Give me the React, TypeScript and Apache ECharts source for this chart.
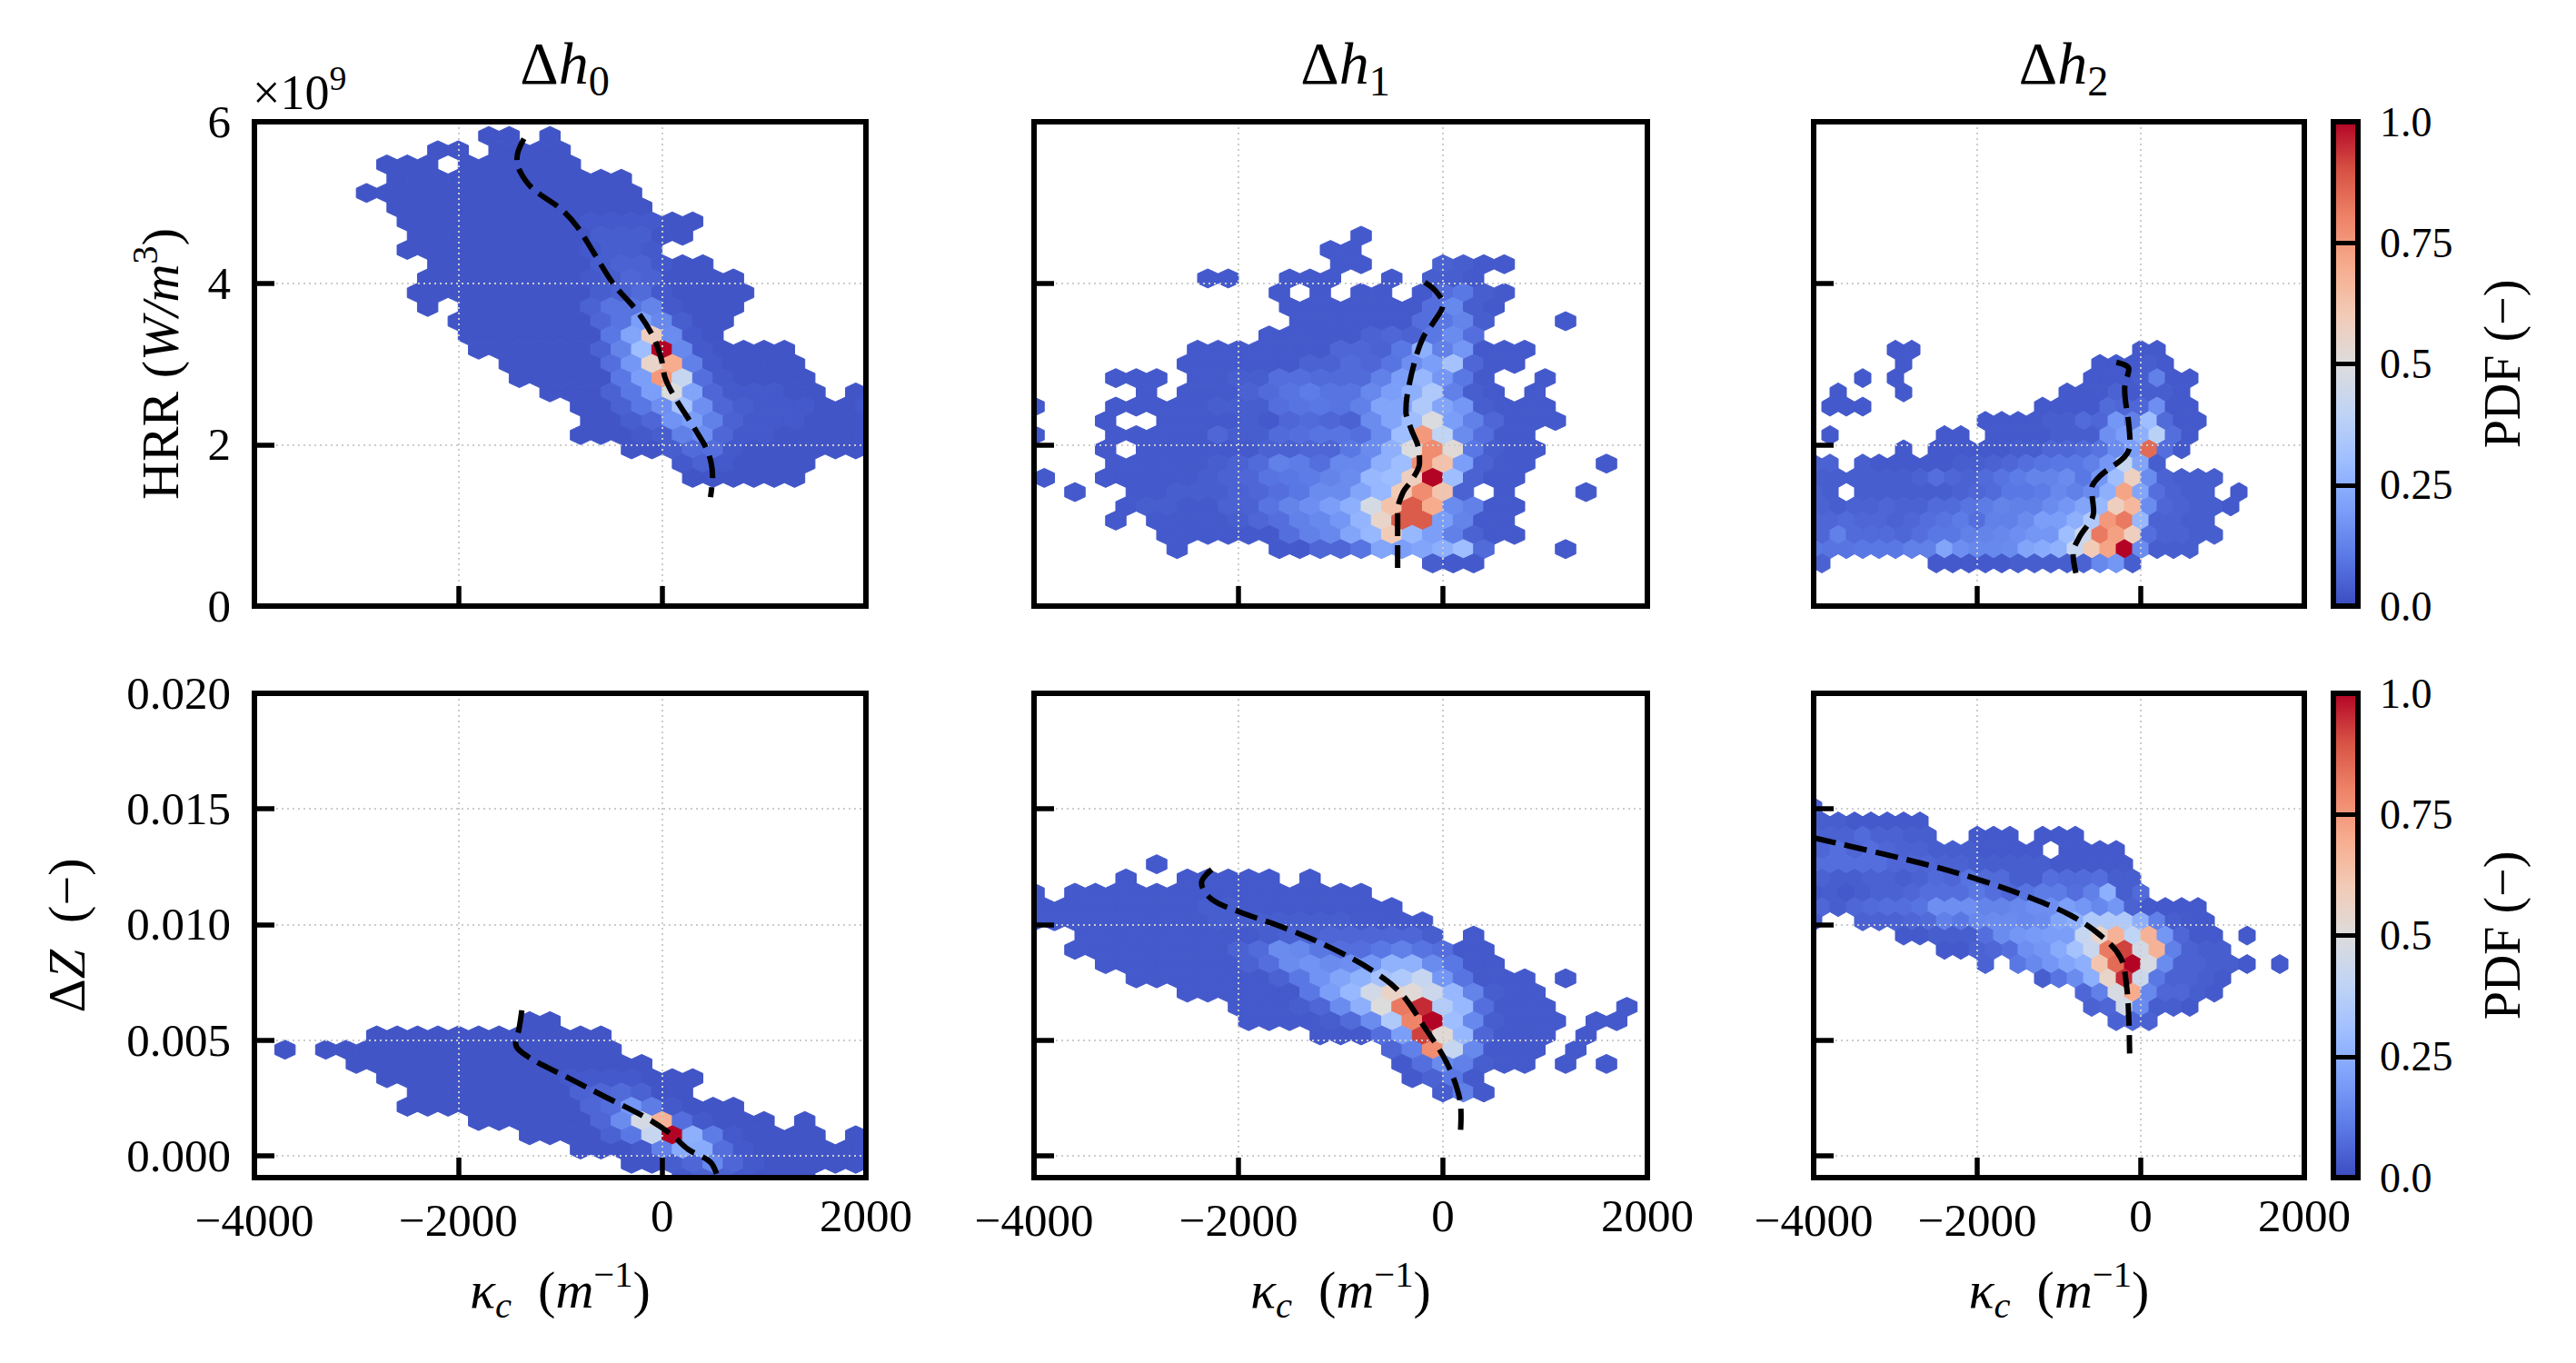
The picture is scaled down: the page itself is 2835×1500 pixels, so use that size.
import React, { useEffect, useRef } from "react";
import * as echarts from "echarts";

type HexRow = [number, number, number[]];

const dzTicks = [0, 0.005, 0.01, 0.015, 0.02];
const cbTicks = ["0.0", "0.25", "0.5", "0.75", "1.0"];
const titles = ["h0", "h1", "h2"];

// each row: [y, x of first hexagon, PDF in percent for hexagons 200 apart; 0 = empty]
const hrrD0: HexRow[] = [
  [5.824e9, -1700, [2, 2, 0, 2]],
  [5.647e9, -2200, [2, 2, 0, 2, 2, 2, 2]],
  [5.471e9, -2700, [2, 2, 2, 0, 2, 2, 2, 2, 2, 2]],
  [5.294e9, -2600, [2, 2, 2, 2, 2, 2, 2, 2, 2, 2, 2, 2]],
  [5.118e9, -2900, [2, 2, 2, 2, 2, 2, 2, 2, 2, 2, 2, 2, 2, 2]],
  [4.941e9, -2600, [2, 2, 2, 2, 2, 2, 2, 2, 2, 2, 2, 2, 2]],
  [4.765e9, -2500, [2, 2, 2, 2, 2, 2, 2, 2, 2, 3, 3, 3, 3, 2, 2]],
  [4.588e9, -2400, [2, 2, 2, 2, 2, 2, 2, 2, 2, 4, 4, 4, 2, 2]],
  [4.412e9, -2500, [2, 2, 2, 2, 2, 2, 2, 2, 2, 3, 4, 4, 3]],
  [4.235e9, -2200, [2, 2, 2, 2, 2, 2, 2, 2, 4, 5, 5, 3, 2, 2]],
  [4.059e9, -2300, [2, 2, 2, 2, 2, 2, 2, 2, 3, 4, 6, 5, 2, 2, 2, 2]],
  [3.882e9, -2400, [2, 2, 2, 2, 2, 2, 2, 2, 2, 4, 5, 7, 3, 2, 2, 2, 2]],
  [3.706e9, -2300, [2, 0, 2, 2, 2, 2, 2, 2, 5, 9, 9, 13, 3, 2, 2, 2]],
  [3.529e9, -2000, [2, 2, 2, 2, 2, 2, 2, 6, 9, 20, 14, 4, 2, 2]],
  [3.353e9, -1900, [2, 2, 2, 2, 2, 2, 2, 10, 22, 58, 15, 3, 2]],
  [3.176e9, -1800, [2, 2, 2, 2, 2, 2, 5, 13, 30, 100, 14, 3, 2, 2, 2, 2]],
  [3.0e9, -1500, [2, 2, 2, 2, 2, 8, 18, 55, 70, 12, 3, 2, 2, 2, 2]],
  [2.824e9, -1400, [2, 2, 2, 2, 2, 10, 20, 75, 42, 8, 3, 2, 2, 2, 2]],
  [2.647e9, -1100, [2, 2, 2, 5, 10, 20, 50, 22, 6, 3, 3, 3, 2, 2, 0, 2]],
  [2.471e9, -800, [2, 2, 5, 10, 16, 32, 16, 6, 4, 3, 3, 3, 2, 2, 3]],
  [2.294e9, -700, [2, 2, 4, 6, 17, 20, 12, 5, 3, 3, 3, 2, 2, 2]],
  [2.118e9, -800, [2, 2, 2, 3, 4, 12, 16, 6, 3, 3, 2, 2, 2, 2, 2]],
  [1.941e9, -300, [2, 2, 4, 7, 8, 3, 2, 2, 2, 2, 2, 2]],
  [1.765e9, 200, [3, 5, 3, 2, 2, 2, 2]],
  [1.588e9, 300, [2, 2, 2, 2, 2, 2]],
];

const hrrD1: HexRow[] = [
  [4.588e9, -800, [3]],
  [4.412e9, -1100, [3, 3]],
  [4.235e9, -1000, [3, 3]],
  [4.235e9, 0, [5, 4, 3, 3]],
  [4.059e9, -2300, [3, 3]],
  [4.059e9, -1500, [3, 3, 3]],
  [4.059e9, -500, [3]],
  [4.059e9, -100, [4, 4, 3]],
  [3.882e9, -1600, [3, 0, 3, 0, 3, 3, 0, 3, 8, 10, 4, 3]],
  [3.706e9, -1500, [3, 3, 3, 3, 3, 3, 3, 8, 14, 4, 3]],
  [3.529e9, -1400, [3, 3, 3, 3, 3, 3, 8, 10, 13, 4]],
  [3.529e9, 1200, [3]],
  [3.353e9, -1700, [3, 3, 3, 3, 3, 5, 6, 5, 10, 15, 8]],
  [3.176e9, -2400, [3, 3, 3, 3, 3, 3, 3, 6, 6, 5, 10, 25, 12, 18, 3, 3, 3]],
  [3.0e9, -2500, [3, 3, 3, 3, 3, 3, 5, 5, 7, 6, 9, 16, 20, 32, 6, 3, 3]],
  [2.824e9, -3200, [3, 3, 3]],
  [2.824e9, -2400, [3, 3, 4, 4, 8, 8, 7, 7, 7, 12, 20, 28, 18, 10, 3]],
  [2.824e9, 1000, [3]],
  [2.647e9, -2900, [3]],
  [2.647e9, -2500, [3, 3, 3, 5, 7, 9, 11, 9, 9, 14, 20, 25, 35, 12, 4, 3]],
  [2.647e9, 900, [3]],
  [2.471e9, -4000, [3]],
  [2.471e9, -3200, [3, 3, 3, 3, 3, 4, 4, 4, 8, 9, 10, 9, 12, 22, 22, 35, 22, 18, 4, 3, 3, 3]],
  [2.294e9, -3300, [3]],
  [2.294e9, -2700, [3, 3, 3, 3, 4, 3, 6, 7, 6, 5, 15, 22, 30, 49, 20, 12, 6, 3, 3, 3]],
  [2.118e9, -4000, [3]],
  [2.118e9, -3200, [3, 3, 3, 3, 3, 6, 4, 4, 7, 8, 9, 9, 8, 15, 30, 75, 40, 15, 8, 3, 3]],
  [1.941e9, -3300, [3, 0, 3, 3, 3, 3, 3, 3, 5, 5, 6, 6, 10, 15, 25, 50, 78, 52, 10, 4, 3, 3]],
  [1.765e9, -3200, [3, 3, 3, 3, 3, 4, 5, 7, 12, 11, 8, 14, 14, 25, 30, 78, 63, 20, 5, 3, 3]],
  [1.765e9, 1600, [3]],
  [1.588e9, -3900, [3]],
  [1.588e9, -3300, [3, 3, 3, 3, 3, 4, 5, 6, 9, 10, 11, 13, 15, 28, 30, 58, 100, 30, 5, 3, 3]],
  [1.412e9, -3600, [3]],
  [1.412e9, -3000, [3, 3, 4, 4, 4, 5, 6, 8, 10, 15, 15, 22, 28, 60, 78, 62, 5, 0, 3]],
  [1.412e9, 1400, [3]],
  [1.235e9, -3100, [3, 4, 4, 3, 3, 5, 5, 9, 13, 16, 20, 25, 47, 63, 88, 70, 15, 12, 3, 3]],
  [1.059e9, -3200, [3]],
  [1.059e9, -2800, [3, 3, 3, 3, 4, 6, 8, 12, 14, 18, 27, 55, 88, 88, 20, 13, 3, 3]],
  [0.882e9, -2700, [3, 3, 3, 3, 3, 3, 8, 12, 14, 22, 28, 60, 28, 20, 12, 5, 3, 3]],
  [0.706e9, -2600, [3]],
  [0.706e9, -1600, [3, 3, 6, 6, 9, 22, 20, 22, 25, 30, 7]],
  [0.706e9, 1200, [3]],
  [0.529e9, -100, [4, 3, 3]],
];

const hrrD2: HexRow[] = [
  [3.176e9, -3000, [3, 3]],
  [3.176e9, 0, [3, 3]],
  [3.0e9, -2900, [3]],
  [3.0e9, -500, [3, 3, 3, 4, 3]],
  [2.824e9, -3400, [3]],
  [2.824e9, -3000, [3]],
  [2.824e9, -600, [3, 3, 3, 4, 12, 3, 3]],
  [2.647e9, -3700, [3]],
  [2.647e9, -2900, [3]],
  [2.647e9, -900, [3, 3, 3, 5, 3, 4, 4, 3]],
  [2.471e9, -3800, [3, 3, 3]],
  [2.471e9, -1200, [3, 3, 3, 3, 7, 6, 6, 16, 3, 3]],
  [2.294e9, -1900, [3, 3, 3, 3, 4, 4, 7, 6, 18, 12, 30, 7, 3, 3]],
  [2.118e9, -3800, [3]],
  [2.118e9, -2400, [3, 3]],
  [2.118e9, -1800, [3, 3, 3, 3, 4, 4, 4, 16, 20, 25, 38, 8, 3]],
  [1.941e9, -2900, [3]],
  [1.941e9, -2500, [3, 3, 3, 3, 3, 4, 4, 6, 6, 7, 9, 15, 20, 85, 8, 3]],
  [1.765e9, -4000, [5, 5]],
  [1.765e9, -3400, [4, 3, 3, 3, 3, 3, 4, 4, 5, 6, 8, 9, 10, 10, 12, 18, 42, 22, 4]],
  [1.588e9, -3900, [4, 4, 4, 4, 4, 4, 5, 8, 6, 5, 7, 9, 11, 13, 13, 15, 10, 18, 30, 57, 15, 5, 4, 4, 4]],
  [1.412e9, -4000, [5, 4, 0, 4, 4, 4, 4, 4, 4, 5, 6, 7, 10, 10, 11, 14, 12, 15, 25, 72, 22, 8, 5, 4, 4]],
  [1.412e9, 1200, [3]],
  [1.235e9, -3900, [5, 4, 5, 5, 6, 5, 5, 7, 7, 9, 11, 13, 12, 12, 15, 18, 22, 28, 58, 66, 15, 6, 5, 4, 4, 3]],
  [1.059e9, -4000, [6, 6, 7, 6, 6, 5, 6, 8, 9, 11, 8, 12, 12, 15, 20, 20, 25, 35, 75, 82, 28, 5, 5, 4, 4]],
  [0.882e9, -3900, [6, 12, 7, 7, 7, 6, 8, 10, 10, 12, 13, 14, 16, 18, 18, 30, 44, 82, 73, 58, 8, 5, 5, 4, 4]],
  [0.706e9, -4000, [10, 9, 9, 10, 10, 10, 12, 12, 22, 16, 14, 14, 15, 22, 24, 26, 42, 60, 72, 100, 15, 4, 4, 4]],
  [0.529e9, -3900, [5]],
  [0.529e9, -2500, [3, 3, 3, 3, 3, 4, 4, 4, 4, 5, 14, 18, 4]],
];

const dzD0: HexRow[] = [
  [0.005819, -1300, [2, 2]],
  [0.005202, -2800, [2, 2, 2, 2, 2, 2, 2, 2, 2, 2, 2, 2]],
  [0.004585, -3700, [2]],
  [0.004585, -3300, [2, 2, 2, 2, 2, 2, 2, 2, 2, 2, 2, 2, 2, 2, 2]],
  [0.003968, -3000, [2, 2, 2, 2, 2, 2, 2, 2, 2, 2, 2, 2, 2, 2, 2]],
  [0.003351, -2700, [2, 2, 2, 2, 2, 2, 2, 2, 2, 3, 3, 3, 3, 2, 2, 2]],
  [0.002734, -2400, [2, 2, 2, 2, 2, 2, 2, 2, 5, 6, 7, 5, 2, 2]],
  [0.002117, -2500, [2, 2, 2, 2, 2, 2, 2, 2, 2, 6, 8, 18, 11, 3, 2, 2, 2]],
  [0.0015, -1800, [2, 2, 2, 2, 2, 2, 6, 15, 47, 68, 8, 3, 2, 2, 2]],
  [0.0015, 1400, [2]],
  [0.000883, -1300, [2, 2, 2, 2, 5, 10, 42, 100, 25, 11, 3, 2, 2, 2, 2]],
  [0.000883, 1900, [2]],
  [0.000266, -800, [2, 2, 2, 3, 12, 24, 24, 8, 3, 2, 2, 2, 2, 2, 2]],
  [-0.000351, -300, [2, 2, 4, 6, 14, 6, 3, 2, 2, 2, 2, 2]],
  [-0.000968, 200, [3, 5, 5, 3, 2, 2, 2]],
];

const dzD1: HexRow[] = [
  [0.012606, -2800, [3]],
  [0.011989, -3100, [3]],
  [0.011989, -2500, [3, 3, 3, 3, 3]],
  [0.011989, -1300, [3]],
  [0.011372, -4000, [3]],
  [0.011372, -3600, [3, 3, 3, 3, 3, 3, 3, 3, 3, 3, 3, 3, 3, 3, 3]],
  [0.010755, -3900, [3, 3, 3, 3, 3, 3, 3, 3, 4, 4, 3, 3, 3, 3, 3, 3, 3, 3]],
  [0.010138, -4000, [3, 3, 3, 3, 3, 3, 3, 3, 3, 4, 4, 4, 4, 4, 4, 4, 3, 3, 3, 3]],
  [0.009521, -3500, [3, 3, 3, 3, 3, 3, 3, 3, 3, 4, 5, 5, 6, 6, 6, 6, 6, 4]],
  [0.009521, 300, [3]],
  [0.008904, -3600, [3, 3, 3, 3, 3, 3, 3, 3, 5, 7, 15, 14, 10, 8, 8, 10, 12, 9, 8, 3, 3]],
  [0.008287, -3300, [3, 3, 3, 3, 3, 3, 3, 5, 8, 15, 17, 15, 16, 18, 26, 26, 15, 10, 3, 3]],
  [0.00767, -3000, [3, 3, 3, 3, 3, 3, 3, 5, 10, 17, 22, 26, 32, 35, 42, 18, 9, 3, 3, 3]],
  [0.00767, 1200, [3]],
  [0.007053, -2500, [3, 3, 3, 3, 3, 3, 10, 20, 28, 46, 56, 52, 44, 28, 13, 4, 3, 3]],
  [0.006436, -2000, [3, 3, 3, 4, 6, 15, 25, 50, 82, 95, 36, 28, 8, 3, 3, 3]],
  [0.006436, 1800, [3]],
  [0.005819, -1900, [3, 3, 3, 3, 4, 7, 15, 35, 80, 100, 30, 14, 4, 3, 3, 3]],
  [0.005819, 1500, [3, 3]],
  [0.005202, -1200, [3, 3, 3, 8, 20, 92, 52, 28, 6, 3, 3, 3]],
  [0.005202, 1400, [3]],
  [0.004585, -500, [6, 12, 78, 42, 14, 3, 3, 3]],
  [0.004585, 1300, [3]],
  [0.003968, -400, [3, 8, 15, 12, 4, 3, 3]],
  [0.003968, 1200, [3, 0, 3]],
  [0.003351, -300, [3, 5, 10, 3]],
  [0.002734, 0, [4, 12, 3]],
];

const dzD2: HexRow[] = [
  [0.015074, -4000, [5]],
  [0.014457, -3900, [4, 4, 3, 3, 3, 3, 3]],
  [0.01384, -4000, [5, 5, 5, 7, 5, 5, 4, 4]],
  [0.01384, -2000, [3, 3, 3]],
  [0.01384, -1200, [3, 3, 3]],
  [0.013223, -3900, [6, 8, 6, 8, 6, 5, 5, 4, 4, 4, 3, 3, 3, 3, 0, 3, 3, 3, 3]],
  [0.012606, -4000, [8, 8, 8, 8, 8, 6, 6, 6, 5, 5, 4, 4, 4, 4, 4, 3, 3, 3, 3, 3]],
  [0.011989, -3900, [5, 4, 4, 5, 5, 4, 5, 7, 6, 9, 7, 7, 4, 4, 8, 7, 7, 8, 4, 4]],
  [0.011372, -4000, [3, 4, 3, 4, 5, 5, 6, 8, 8, 8, 10, 8, 6, 9, 11, 11, 8, 12, 25, 4, 7]],
  [0.010755, -3900, [6, 4, 6, 7, 8, 8, 9, 16, 16, 16, 13, 13, 14, 16, 16, 20, 18, 14, 18, 5, 3, 3, 3, 3]],
  [0.010138, -4000, [4]],
  [0.010138, -3400, [5, 5, 5, 6, 7, 12, 10, 14, 15, 15, 14, 15, 22, 25, 35, 35, 35, 25, 12, 4, 3, 3]],
  [0.009521, -2900, [3, 3, 4, 4, 4, 8, 15, 18, 19, 20, 20, 42, 55, 68, 40, 68, 18, 6, 3, 3]],
  [0.009521, 1300, [3]],
  [0.008904, -2400, [3, 3, 5, 6, 8, 16, 18, 24, 32, 43, 82, 92, 46, 68, 12, 5, 4, 4]],
  [0.008287, -1900, [5]],
  [0.008287, -1500, [10, 14, 18, 22, 25, 62, 85, 100, 48, 15, 5, 5, 4, 4, 3]],
  [0.008287, 1700, [3]],
  [0.00767, -1200, [4, 9, 15, 25, 55, 95, 44, 10, 5, 5, 4, 3]],
  [0.007053, -700, [6, 12, 48, 70, 14, 6, 6, 4, 3]],
  [0.006436, -600, [5, 6, 46, 15, 4, 4, 3]],
  [0.005819, -300, [5, 6, 5]],
];

const curveHrr0X = [-1356, -1424, -1396, -1276, -994, -833, -672, -471, -250, -89, -8, 32, 133, 334, 455, 495, 475];
const curveHrr0Y = [5.79e9, 5.55e9, 5.39e9, 5.18e9, 4.92e9, 4.7e9, 4.38e9, 3.98e9, 3.66e9, 3.34e9, 3.06e9, 2.82e9, 2.57e9, 2.17e9, 1.89e9, 1.61e9, 1.35e9];
const curveHrr1X = [-177, -68, 0, -89, -189, -270, -350, -362, -310, -241, -229, -310, -390, -443, -443];
const curveHrr1Y = [4.01e9, 3.9e9, 3.74e9, 3.52e9, 3.34e9, 3.06e9, 2.61e9, 2.41e9, 2.19e9, 1.97e9, 1.77e9, 1.55e9, 1.41e9, 1.17e9, 0.37e9];
const curveHrr2X = [-298, -146, -197, -146, -131, -197, -500, -601, -576, -753, -828, -793];
const curveHrr2Y = [3.02e9, 2.94e9, 2.69e9, 2.25e9, 2.01e9, 1.85e9, 1.61e9, 1.45e9, 1.17e9, 0.85e9, 0.65e9, 0.41e9];
const curveDz0X = [-1376, -1404, -1437, -1316, -954, -551, -149, 93, 254, 475, 543];
const curveDz0Y = [0.00629, 0.00548, 0.00485, 0.00428, 0.00344, 0.00253, 0.00162, 0.00091, 0.00028, -0.00028, -0.00091];
const curveDz1X = [-2262, -2362, -2262, -1980, -1577, -1095, -692, -410, -189, 32, 153, 177, 173];
const curveDz1Y = [0.01238, 0.0118, 0.01109, 0.01053, 0.0099, 0.00899, 0.00801, 0.00702, 0.00562, 0.00407, 0.00267, 0.00169, 0.00112];
const curveDz2X = [-4000, -2672, -2015, -1308, -854, -500, -247, -172, -146, -136];
const curveDz2Y = [0.01375, 0.01264, 0.01198, 0.0111, 0.01039, 0.00955, 0.00857, 0.0073, 0.0059, 0.00442];

const FONT = "Liberation Serif";
const TICK_SIZE = 51;
const NAME_SIZE = 58;
const TITLE_SIZE = 66;

const colStops: [number, number[]][] = [
  [0, [59, 76, 192]], [0.1, [90, 120, 228]], [0.2, [123, 159, 249]], [0.3, [158, 190, 255]], [0.4, [192, 212, 245]],
  [0.5, [221, 220, 220]], [0.6, [242, 203, 183]], [0.7, [247, 172, 142]], [0.8, [238, 132, 104]], [0.9, [214, 82, 68]], [1, [180, 4, 38]],
];

function coolwarm(v: number): string {
  const t = Math.max(0, Math.min(1, v));
  for (let i = 1; i < colStops.length; i++) {
    if (t <= colStops[i][0]) {
      const [a, ca] = colStops[i - 1];
      const [b, cb] = colStops[i];
      const f = (t - a) / (b - a);
      const c = ca.map((q, k) => Math.round(q + (cb[k] - q) * f));
      return `rgb(${c[0]},${c[1]},${c[2]})`;
    }
  }
  return "rgb(180,4,38)";
}

function richStyles(size: number) {
  const base = { fontFamily: FONT, color: "#000", fontWeight: "normal" };
  return {
    n: { ...base, fontSize: size, lineHeight: size * 1.3 },
    i: { ...base, fontSize: size, lineHeight: size * 1.3, fontStyle: "italic" },
    sub: { ...base, fontSize: size * 0.7, lineHeight: size * 0.7, verticalAlign: "bottom" },
    subi: { ...base, fontSize: size * 0.7, lineHeight: size * 0.7, verticalAlign: "bottom", fontStyle: "italic" },
    sup: { ...base, fontSize: size * 0.7, lineHeight: size * 0.7, verticalAlign: "top" },
  };
}

const colX = [[280, 953], [1138, 1813], [1996, 2536]];
const rowY = [[134, 667], [763, 1296]];
const cbX = [2568, 2595];

const panels = [
  { rows: hrrD0, cx: curveHrr0X, cy: curveHrr0Y, r: 0, c: 0 },
  { rows: hrrD1, cx: curveHrr1X, cy: curveHrr1Y, r: 0, c: 1 },
  { rows: hrrD2, cx: curveHrr2X, cy: curveHrr2Y, r: 0, c: 2 },
  { rows: dzD0, cx: curveDz0X, cy: curveDz0Y, r: 1, c: 0 },
  { rows: dzD1, cx: curveDz1X, cy: curveDz1Y, r: 1, c: 1 },
  { rows: dzD2, cx: curveDz2X, cy: curveDz2Y, r: 1, c: 2 },
];

const hexHalfH = [0.35294e9 / 3, 0.001234 / 3];

function buildOption() {
  const grid: any[] = [];
  const xAxis: any[] = [];
  const yAxis: any[] = [];
  const series: any[] = [];
  const title: any[] = [];
  const tickBase = { show: true, inside: true, length: 22, lineStyle: { color: "#000", width: 5.5 } };
  const split = { show: true, lineStyle: { color: "#cccccc", width: 2, type: [2, 4] } };

  panels.forEach((p, idx) => {
    const [x0, x1] = colX[p.c];
    const [y0, y1] = rowY[p.r];
    grid.push({
      left: x0, top: y0, width: x1 - x0, height: y1 - y0, show: true, z: 10,
      backgroundColor: "transparent", borderColor: "#000", borderWidth: 6, containLabel: false, outerBoundsMode: "none",
    });
    xAxis.push({
      gridIndex: idx, type: "value", min: -4000, max: 2000, interval: 2000, z: 5,
      axisLine: { show: false, onZero: false }, axisTick: tickBase, splitLine: split,
      axisLabel: {
        show: p.r === 1, margin: 16, fontFamily: FONT, fontSize: TICK_SIZE, color: "#000",
        showMinLabel: true, showMaxLabel: true, hideOverlap: false,
        formatter: (v: number) => (v < 0 ? `{neg|\u2212${-v}}` : String(v)),
        rich: { neg: { fontFamily: FONT, fontSize: TICK_SIZE, color: "#000", padding: [5, 0, 0, 0] } },
      },
      name: p.r === 1 ? "{i|\u03BA}{subi|c}{n|  (}{i|m}{sup|\u22121}{n|)}" : "",
      nameLocation: "middle", nameGap: 86, nameTextStyle: { rich: richStyles(NAME_SIZE) },
    });
    const isHrr = p.r === 0;
    yAxis.push({
      gridIndex: idx, type: "value", z: 5,
      min: isHrr ? 0 : -0.00095, max: isHrr ? 6e9 : 0.02,
      ...(isHrr ? { interval: 2e9 } : {}),
      axisLine: { show: false, onZero: false },
      axisTick: isHrr ? tickBase : { ...tickBase, customValues: dzTicks },
      splitLine: split,
      axisLabel: {
        show: p.c === 0, margin: 26, fontFamily: FONT, fontSize: TICK_SIZE, color: "#000",
        showMinLabel: true, showMaxLabel: true, hideOverlap: false,
        ...(isHrr ? {} : { customValues: dzTicks }),
        formatter: (v: number) => (isHrr ? String(Math.round(v / 1e9)) : v.toFixed(3)),
      },
      name: p.c === 0 ? (isHrr ? "{n|HRR (}{i|W/m}{sup|3}{n|)}" : "{n|\u0394}{i|Z}{n|  (\u2212)}") : "",
      nameLocation: "middle", nameRotate: 90, nameGap: isHrr ? 66 : 169, nameTextStyle: { rich: richStyles(NAME_SIZE) },
    });
    const halfH = hexHalfH[p.r];
    series.push({
      type: "custom", xAxisIndex: idx, yAxisIndex: idx, z: 2, clip: true, silent: true,
      data: p.rows.flatMap(([y, xs, vals]) => vals.map((v, i) => [xs + 200 * i, y, v / 100]).filter((d) => d[2] > 0)),
      encode: { x: 0, y: 1 },
      renderItem: (_: any, api: any) => {
        const c = api.coord([api.value(0), api.value(1)]);
        const s = api.size([200, halfH]);
        const w = s[0] / 2;
        const h = s[1];
        const col = coolwarm(api.value(2));
        return {
          type: "polygon",
          shape: { points: [[c[0] + w, c[1] - h / 2], [c[0] + w, c[1] + h / 2], [c[0], c[1] + h], [c[0] - w, c[1] + h / 2], [c[0] - w, c[1] - h / 2], [c[0], c[1] - h]] },
          style: { fill: col, stroke: col, lineWidth: 1 },
        };
      },
    });
    series.push({
      type: "line", xAxisIndex: idx, yAxisIndex: idx, z: 6, showSymbol: false, smooth: 0.35, clip: true, silent: true,
      data: p.cx.map((x, i) => [x, p.cy[i]]),
      lineStyle: { color: "#000", width: 6, type: [25, 10] },
    });
  });

  titles.forEach((t, i) => {
    title.push({
      text: `{n|\u0394}{i|h}{sub|${t[1]}}`,
      left: (colX[i][0] + colX[i][1]) / 2, top: 22, textAlign: "center",
      textStyle: { fontWeight: "normal", rich: richStyles(TITLE_SIZE) },
    });
  });

  rowY.forEach(([y0, y1]) => {
    const g = grid.length;
    grid.push({
      left: cbX[0], top: y0, width: cbX[1] - cbX[0], height: y1 - y0, show: true, z: 10,
      backgroundColor: "transparent", borderColor: "#000", borderWidth: 6, containLabel: false, outerBoundsMode: "none",
    });
    xAxis.push({ gridIndex: g, type: "value", min: 0, max: 1, show: false });
    yAxis.push({
      gridIndex: g, type: "value", min: 0, max: 1, interval: 0.25, position: "right", z: 5,
      axisLine: { show: false, onZero: false }, splitLine: { show: false },
      axisTick: { show: true, inside: true, length: cbX[1] - cbX[0], lineStyle: { color: "#000", width: 5 } },
      axisLabel: {
        margin: 24, fontFamily: FONT, fontSize: 46, color: "#000", showMinLabel: true, showMaxLabel: true, hideOverlap: false,
        formatter: (_: number, i: number) => cbTicks[i],
      },
      name: "{n|PDF (\u2212)}", nameLocation: "middle", nameRotate: 90, nameGap: 123,
      nameTextStyle: { rich: richStyles(56) },
    });
    series.push({
      type: "custom", xAxisIndex: g, yAxisIndex: g, z: 2, silent: true, data: [[0, 0, 1, 1]],
      encode: { x: [0, 2], y: [1, 3] },
      renderItem: (_: any, api: any) => {
        const a = api.coord([0, 1]);
        const b = api.coord([1, 0]);
        return {
          type: "rect",
          shape: { x: a[0], y: a[1], width: b[0] - a[0], height: b[1] - a[1] },
          style: {
            fill: new echarts.graphic.LinearGradient(0, 1, 0, 0, colStops.map(([offset, c]) => ({ offset, color: `rgb(${c[0]},${c[1]},${c[2]})` }))),
          },
        };
      },
    });
  });

  return {
    animation: false,
    backgroundColor: "#fff",
    title, grid, xAxis, yAxis, series,
    graphic: [
      {
        type: "text", left: 278, top: 67, z: 20,
        style: { text: "{n|\u00D710}{sup|9}", rich: richStyles(54) },
      },
    ],
  };
}

export default function App() {
  const ref = useRef<HTMLDivElement>(null);
  useEffect(() => {
    const chart = echarts.init(ref.current!, undefined, { renderer: "svg" });
    chart.setOption(buildOption() as any);
    return () => chart.dispose();
  }, []);
  return <div ref={ref} style={{ position: "absolute", left: 0, top: 0, width: 2835, height: 1500 }} />;
}
